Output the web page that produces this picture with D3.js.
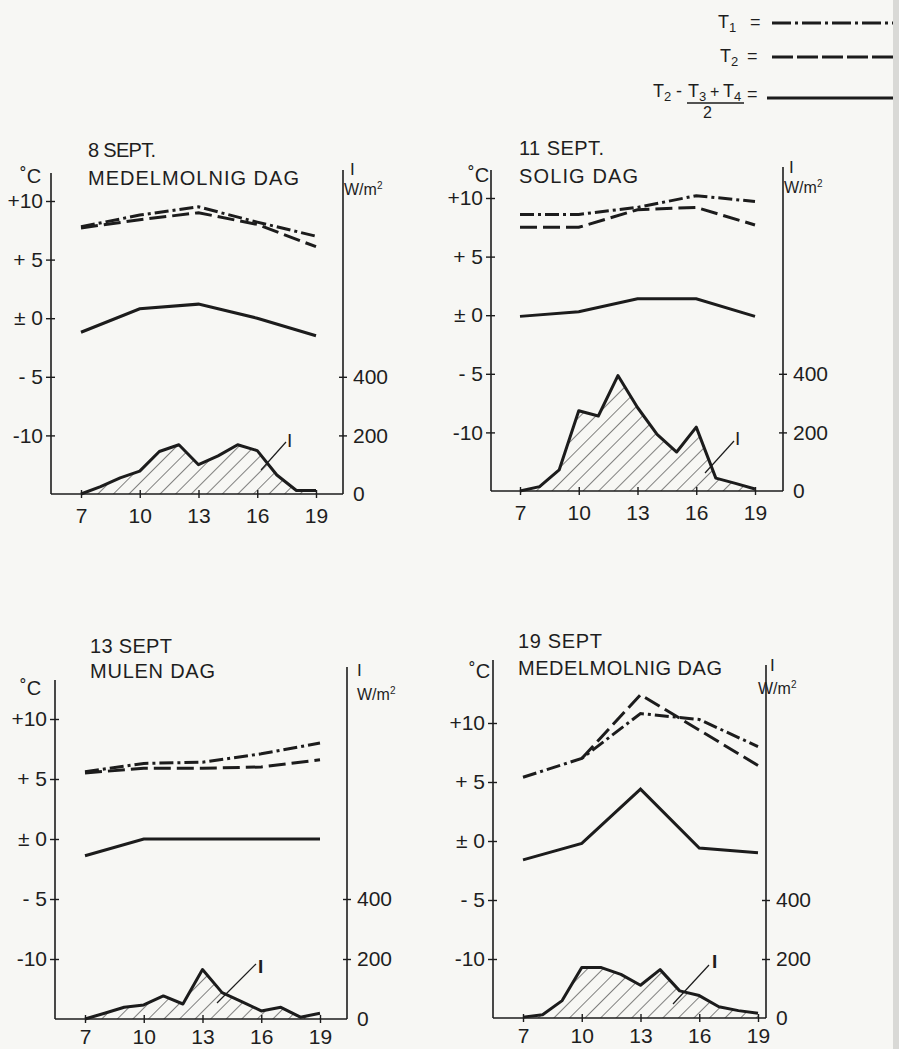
<!DOCTYPE html>
<html>
<head>
<meta charset="utf-8">
<script src="https://cdn.jsdelivr.net/npm/d3@7"></script>
<style>
  body { margin: 0; background: #f7f7f4; }
  svg { display: block; }
  text { font-family: "Liberation Sans", "DejaVu Sans", sans-serif; fill: #1e1e1e; }
</style>
</head>
<body>
<div id="chart"></div>
<script>
// Temperatur och instrålning, fyra septemberdagar

// x values (time of day)
var hours = [7, 8, 9, 10, 11, 12, 13, 14, 15, 16, 17, 18, 19];
var tHours = [7, 10, 13, 16, 19];
var xTicks = [7, 10, 13, 16, 19];

// axis ticks
var tempTicks = [10, 5, 0, -5, -10];
var tempTickLabels = ["+10", "+ 5", "\u00b1 0", "- 5", "-10"];
var irrTicks = [0, 200, 400];

// titles
var dates = ["8 SEPT.", "11 SEPT.", "13 SEPT", "19 SEPT"];
var dayTypes = ["MEDELMOLNIG DAG", "SOLIG DAG", "MULEN DAG", "MEDELMOLNIG DAG"];

// T1 (dash-dot), degC at tHours
var t1Sep8 = [7.8, 8.8, 9.5, 8.2, 7.0];
var t1Sep11 = [8.6, 8.6, 9.2, 10.2, 9.7];
var t1Sep13 = [5.6, 6.3, 6.4, 7.1, 8.0];
var t1Sep19 = [5.4, 7.0, 10.8, 10.3, 8.0];

// T2 (dashed)
var t2Sep8 = [7.7, 8.4, 9.0, 8.0, 6.1];
var t2Sep11 = [7.5, 7.5, 9.0, 9.2, 7.7];
var t2Sep13 = [5.5, 5.9, 5.9, 6.0, 6.6];
var t2Sep19 = [null, 7.0, 12.4, 9.4, 6.4];

// T2 - (T3 + T4)/2 (solid)
var dSep8 = [-1.2, 0.8, 1.2, 0.0, -1.5];
var dSep11 = [-0.1, 0.3, 1.4, 1.4, -0.1];
var dSep13 = [-1.4, 0.0, 0.0, 0.0, 0.0];
var dSep19 = [-1.6, -0.2, 4.4, -0.6, -1.0];

// I, W/m2 at hours
var iSep8 = [0, 25, 55, 78, 145, 168, 100, 130, 168, 148, 65, 12, 12];
var iSep11 = [0, 15, 72, 274, 256, 394, 285, 193, 133, 218, 44, 26, 7];
var iSep13 = [0, 19, 39, 47, 77, 50, 165, 88, 58, 27, 39, 6, 19];
var iSep19 = [3, 11, 59, 171, 171, 148, 111, 164, 92, 76, 38, 25, 16];

var t1All = [t1Sep8, t1Sep11, t1Sep13, t1Sep19];
var t2All = [t2Sep8, t2Sep11, t2Sep13, t2Sep19];
var dAll = [dSep8, dSep11, dSep13, dSep19];
var iAll = [iSep8, iSep11, iSep13, iSep19];

// panel placement (pixels)
var panels = [
  {left: 51, right: 343, topL: 173, topR: 170, x7: 81, x19: 316, y10: 201, yBot: 494, pad: 10,
   tx: 88, ty1: 157, ty2: 185, w1: 68, w2: 211, degX: 20, degY: 183, ix: 350, iy: 175, wx: 344, wy: 195,
   lead: [261, 470, 286, 442], labX: 287, labY: 447, bold: false},
  {left: 491, right: 783, topL: 170, topR: 167, x7: 520, x19: 755, y10: 198, yBot: 491, pad: 10,
   tx: 519, ty1: 155, ty2: 183, w1: 85, w2: 119, degX: 468, degY: 182, ix: 789, iy: 173, wx: 784, wy: 193,
   lead: [705, 473, 734, 441], labX: 735, labY: 445, bold: false},
  {left: 55, right: 347, topL: 680, topR: 667, x7: 85, x19: 320, y10: 719, yBot: 1019, pad: 6,
   tx: 90, ty1: 653, ty2: 678, w1: 82, w2: 125, degX: 20, degY: 695, ix: 357, iy: 676, wx: 357, wy: 700,
   lead: [217, 1003, 256, 964], labX: 258, labY: 973, bold: true},
  {left: 493, right: 766, topL: 660, topR: 665, x7: 523, x19: 758, y10: 723, yBot: 1018, pad: 6,
   tx: 518, ty1: 648, ty2: 675, w1: 84, w2: 204, degX: 469, degY: 678, ix: 770, iy: 671, wx: 758, wy: 694,
   lead: [673, 1004, 709, 965], labX: 712, labY: 968, bold: true}
];

var ink = "#1c1c1c";
var dashDot = "14,4,3,4";
var dashed = "17,6";

var svg = d3.select("#chart")
  .append("svg")
  .attr("width", 899)
  .attr("height", 1049);

svg.append("rect")
  .attr("width", 899)
  .attr("height", 1049)
  .attr("fill", "#f7f7f4");

// page edge on the right
svg.append("rect")
  .attr("x", 893)
  .attr("width", 6)
  .attr("height", 1049)
  .attr("fill", "#d9d9d6");

// hatch pattern for the I area
svg.append("defs")
  .append("pattern")
  .attr("id", "hatch")
  .attr("patternUnits", "userSpaceOnUse")
  .attr("width", 11)
  .attr("height", 11)
  .attr("patternTransform", "rotate(45)")
  .append("line")
  .attr("x1", 0).attr("y1", 0)
  .attr("x2", 0).attr("y2", 11)
  .attr("stroke", ink)
  .attr("stroke-width", 1.1);

panels.forEach(function(p, k) {
  var g = svg.append("g");

  var x = d3.scaleLinear().domain([7, 19]).range([p.x7, p.x19]);
  var yT = d3.scaleLinear().domain([-15, 10]).range([p.yBot, p.y10]);
  var yI = d3.scaleLinear().domain([0, 1000]).range([p.yBot, p.y10]);

  // I area + outline
  var iData = hours.map(function(h, j) { return {h: h, v: iAll[k][j]}; });
  g.append("path")
    .datum(iData)
    .attr("fill", "url(#hatch)")
    .attr("d", d3.area().x(d => x(d.h)).y0(yI(0)).y1(d => yI(d.v)));
  g.append("path")
    .datum(iData)
    .attr("fill", "none")
    .attr("stroke", ink)
    .attr("stroke-width", 3)
    .attr("stroke-linejoin", "round")
    .attr("d", d3.line().x(d => x(d.h)).y(d => yI(d.v)));

  // temperature lines
  var line = d3.line()
    .defined(d => d.v != null)
    .x(d => x(d.h))
    .y(d => yT(d.v));
  var series = [
    {vals: t1All[k], dash: dashDot},
    {vals: t2All[k], dash: dashed},
    {vals: dAll[k], dash: null}
  ];
  series.forEach(function(s) {
    g.append("path")
      .datum(tHours.map(function(h, j) { return {h: h, v: s.vals[j]}; }))
      .attr("fill", "none")
      .attr("stroke", ink)
      .attr("stroke-width", 3)
      .attr("stroke-dasharray", s.dash)
      .attr("d", line);
  });

  // axes lines
  g.append("line")
    .attr("x1", p.left).attr("x2", p.left)
    .attr("y1", p.topL).attr("y2", p.yBot)
    .attr("stroke", ink).attr("stroke-width", 1.6);
  g.append("line")
    .attr("x1", p.right).attr("x2", p.right)
    .attr("y1", p.topR).attr("y2", p.yBot)
    .attr("stroke", ink).attr("stroke-width", 1.6);
  g.append("line")
    .attr("x1", p.left).attr("x2", p.right)
    .attr("y1", p.yBot).attr("y2", p.yBot)
    .attr("stroke", ink).attr("stroke-width", 1.6);

  // left axis
  var leftAxis = d3.axisLeft(yT)
    .tickValues(tempTicks)
    .tickSize(5)
    .tickPadding(3)
    .tickFormat(function(d, i) { return tempTickLabels[i]; });
  var la = g.append("g")
    .attr("transform", `translate(${p.left},0)`)
    .call(leftAxis);
  la.select(".domain").remove();
  la.selectAll(".tick line").attr("x1", 4).attr("x2", -5).attr("stroke", ink).attr("stroke-width", 1.4);
  la.selectAll("text").attr("font-size", 21).attr("font-family", "Liberation Sans").attr("fill", ink);

  // right axis
  var rightAxis = d3.axisRight(yI)
    .tickValues(irrTicks)
    .tickSize(4)
    .tickPadding(6);
  var ra = g.append("g")
    .attr("transform", `translate(${p.right},0)`)
    .call(rightAxis);
  ra.select(".domain").remove();
  ra.selectAll(".tick line").attr("x1", -4).attr("stroke", ink).attr("stroke-width", 1.4)
    .attr("opacity", d => d === 0 ? 0 : 1);
  ra.selectAll("text").attr("font-size", 21).attr("font-family", "Liberation Sans").attr("fill", ink);

  // bottom axis
  var bottomAxis = d3.axisBottom(x)
    .tickValues(xTicks)
    .tickSize(4)
    .tickPadding(p.pad);
  var ba = g.append("g")
    .attr("transform", `translate(0,${p.yBot})`)
    .call(bottomAxis);
  ba.select(".domain").remove();
  ba.selectAll(".tick line").attr("y1", -4).attr("stroke", ink).attr("stroke-width", 1.4);
  ba.selectAll("text").attr("font-size", 21).attr("font-family", "Liberation Sans").attr("fill", ink);

  // titles
  g.append("text")
    .attr("x", p.tx).attr("y", p.ty1)
    .attr("font-size", 20)
    .attr("textLength", p.w1)
    .attr("lengthAdjust", "spacing")
    .text(dates[k]);
  g.append("text")
    .attr("x", p.tx).attr("y", p.ty2)
    .attr("font-size", 20)
    .attr("textLength", p.w2)
    .attr("lengthAdjust", "spacing")
    .text(dayTypes[k]);

  // unit labels
  g.append("text")
    .attr("x", p.degX).attr("y", p.degY)
    .attr("font-size", 20)
    .text("\u02daC");
  g.append("text")
    .attr("x", p.ix).attr("y", p.iy)
    .attr("font-size", 17)
    .attr("font-family", "Liberation Serif")
    .text("I");
  var wm = g.append("text")
    .attr("x", p.wx).attr("y", p.wy)
    .attr("font-size", 16)
    .text("W/m");
  wm.append("tspan")
    .attr("dy", -6)
    .attr("font-size", 10)
    .text("2");

  // I label with leader
  g.append("line")
    .attr("x1", p.lead[0]).attr("y1", p.lead[1])
    .attr("x2", p.lead[2]).attr("y2", p.lead[3])
    .attr("stroke", ink).attr("stroke-width", 1.2);
  g.append("text")
    .attr("x", p.labX).attr("y", p.labY)
    .attr("font-size", 19)
    .attr("font-family", "Liberation Serif")
    .attr("font-weight", p.bold ? "bold" : "normal")
    .text("I");
});

// Legend
var legend = svg.append("g");

function tSub(x, y, sub) {
  var t = legend.append("text")
    .attr("x", x).attr("y", y)
    .attr("font-size", 18)
    .text("T");
  t.append("tspan")
    .attr("dy", 4)
    .attr("font-size", 13)
    .text(sub);
  return t;
}

tSub(718, 28, "1");
legend.append("text").attr("x", 750).attr("y", 28).attr("font-size", 18).text("=");
legend.append("line")
  .attr("x1", 772).attr("x2", 893).attr("y1", 23).attr("y2", 23)
  .attr("stroke", ink).attr("stroke-width", 3).attr("stroke-dasharray", "19,4,3,4");

tSub(720, 62, "2");
legend.append("text").attr("x", 747).attr("y", 62).attr("font-size", 18).text("=");
legend.append("line")
  .attr("x1", 772).attr("x2", 893).attr("y1", 57).attr("y2", 57)
  .attr("stroke", ink).attr("stroke-width", 3).attr("stroke-dasharray", "21,4");

tSub(653, 97, "2");
legend.append("text").attr("x", 676).attr("y", 97).attr("font-size", 18).text("-");
tSub(688, 97, "3");
legend.append("text").attr("x", 710).attr("y", 97).attr("font-size", 16).text("+");
tSub(723, 97, "4");
legend.append("line")
  .attr("x1", 687).attr("x2", 744).attr("y1", 103).attr("y2", 103)
  .attr("stroke", ink).attr("stroke-width", 1.5);
legend.append("text").attr("x", 703).attr("y", 118).attr("font-size", 16).text("2");
legend.append("text").attr("x", 747).attr("y", 100).attr("font-size", 18).text("=");
legend.append("line")
  .attr("x1", 767).attr("x2", 893).attr("y1", 98).attr("y2", 98)
  .attr("stroke", ink).attr("stroke-width", 3);
</script>
</body>
</html>
